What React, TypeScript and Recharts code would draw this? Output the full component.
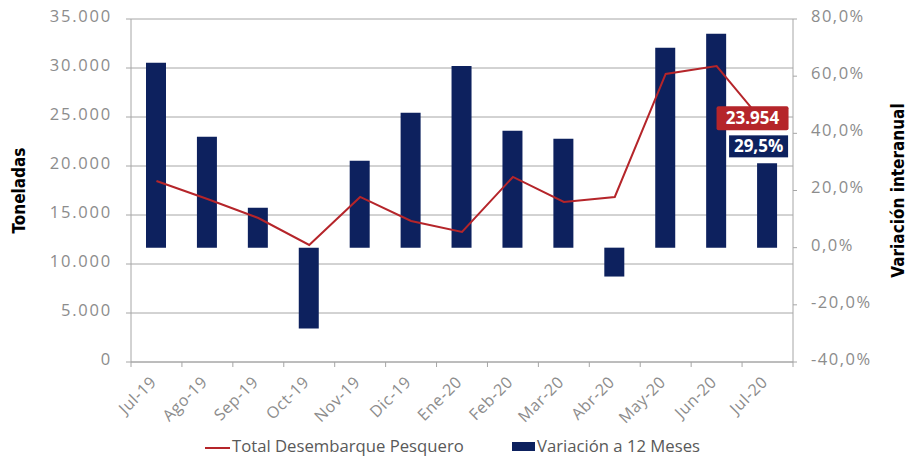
import React from 'react';
import { ComposedChart, Bar, Line, XAxis, YAxis, CartesianGrid, Legend, Label } from 'recharts';

// meses del periodo
const months = ['Jul-19', 'Ago-19', 'Sep-19', 'Oct-19', 'Nov-19', 'Dic-19', 'Ene-20', 'Feb-20', 'Mar-20', 'Abr-20', 'May-20', 'Jun-20', 'Jul-20'];
// total desembarque (toneladas)
const toneladas = [18470, 16630, 14690, 11940, 16840, 14390, 13270, 18880, 16330, 16840, 29390, 30200, 23954];
// variacion a 12 meses (%)
const variacion = [64.7, 38.8, 14.0, -28.3, 30.4, 47.2, 63.6, 40.9, 38.1, -10.1, 69.9, 74.8, 29.5];
const leftTicks = [0, 5000, 10000, 15000, 20000, 25000, 30000, 35000];
const rightTicks = [-40, -20, 0, 20, 40, 60, 80];

const data = months.map((m, i) => ({ mes: m, total: toneladas[i], variacion: variacion[i] }));

const RED = '#b5252a';
const NAVY = '#0d215e';
const GRID = '#a6a6a6';
const TICK = '#8c8c8c';
const FONT = '"Open Sans", "Noto Sans", sans-serif';
const TITLE_FONT = '"Liberation Sans Narrow", "DejaVu Sans Condensed", "Open Sans", sans-serif';

const fmtMiles = (n: number) => Math.round(n).toString().replace(/\B(?=(\d{3})+(?!\d))/g, '.');
const fmtPct = (n: number) => n.toFixed(1).replace('.', ',') + '%';

const W = 908;
const H = 458;
const LEFT_W = 131;
const RIGHT_W = 115;
const BAND = (W - LEFT_W - RIGHT_W) / months.length;

const MonthTick = (props: any) => {
  const { x, y, payload, index } = props;
  const half = BAND / 2;
  return (
    <g>
      <line x1={x - half} x2={x - half} y1={y} y2={y + 5} stroke={GRID} />
      {index === months.length - 1 && <line x1={x + half} x2={x + half} y1={y} y2={y + 5} stroke={GRID} />}
      <text
        x={x + 1}
        y={y + 21}
        transform={`rotate(-45 ${x + 1} ${y + 21})`}
        textAnchor="end"
        fill={TICK}
        fontSize={16}
        letterSpacing={0.6}
        fontFamily={FONT}
      >
        {payload.value}
      </text>
    </g>
  );
};

const TotalLabel = (props: any) => {
  const { x, y, index, value } = props;
  if (index !== months.length - 1) return null;
  return (
    <g>
      <rect x={x - 51} y={y - 21} width={72} height={24} fill={RED} rx={2} />
      <text x={x - 15} y={y - 3} textAnchor="middle" fill="#fff" fontSize={17} fontWeight="bold" fontFamily={FONT}>
        {fmtMiles(value)}
      </text>
    </g>
  );
};

const VarLabel = (props: any) => {
  const { x, y, width, index, value } = props;
  if (index !== months.length - 1) return null;
  const cx = x + width / 2;
  return (
    <g>
      <rect x={cx - 38} y={y - 28} width={59} height={22} fill={NAVY} />
      <text x={cx - 8.5} y={y - 11} textAnchor="middle" fill="#fff" fontSize={17} fontWeight="bold" fontFamily={FONT}>
        {fmtPct(value)}
      </text>
    </g>
  );
};

const LegendBox = () => (
  <div style={{ position: 'relative', width: W, height: 20, fontFamily: FONT, fontSize: 16.7, lineHeight: '20px', color: '#595959' }}>
    <div style={{ position: 'absolute', left: 205, top: 11, width: 25, height: 2, background: RED }} />
    <span style={{ position: 'absolute', left: 232, top: 0, whiteSpace: 'nowrap' }}>Total Desembarque Pesquero</span>
    <div style={{ position: 'absolute', left: 512, top: 6, width: 23, height: 9, background: NAVY }} />
    <span style={{ position: 'absolute', left: 537, top: 0, whiteSpace: 'nowrap' }}>Variación a 12 Meses</span>
  </div>
);

const titleLabel = (text: string, offset: number) => (p: any) => {
  const vb = p.viewBox;
  const cx = vb.x + offset;
  const cy = vb.y + vb.height / 2;
  return (
    <text
      x={cx}
      y={cy}
      transform={`rotate(-90 ${cx} ${cy})`}
      textAnchor="middle"
      dominantBaseline="central"
      fontSize={17}
      fontWeight="bold"
      fill="#000"
      fontFamily={TITLE_FONT}
    >
      {text}
    </text>
  );
};

export default function App() {
  return (
    <div style={{ position: 'absolute', left: 0, top: 0, width: W, height: H, background: '#fff' }}>
      <ComposedChart width={W} height={H} data={data} margin={{ top: 19, right: 0, bottom: 0, left: 0 }}>
        <CartesianGrid yAxisId="left" vertical={false} stroke={GRID} />
        <XAxis
          dataKey="mes"
          height={62}
          interval={0}
          tickLine={false}
          tickSize={0}
          tickMargin={0}
          axisLine={{ stroke: GRID }}
          tick={<MonthTick />}
        />
        <YAxis
          yAxisId="left"
          width={LEFT_W}
          domain={[0, 35000]}
          ticks={leftTicks}
          tickFormatter={fmtMiles}
          tickSize={5}
          tickMargin={14}
          axisLine={{ stroke: GRID }}
          tickLine={{ stroke: GRID }}
          tick={{ fill: TICK, fontSize: 16.5, fontFamily: FONT, letterSpacing: 1.8, dy: -3 }}
        >
          <Label content={titleLabel('Toneladas', 19)} />
        </YAxis>
        <YAxis
          yAxisId="right"
          orientation="right"
          width={RIGHT_W}
          domain={[-40, 80]}
          ticks={rightTicks}
          tickFormatter={fmtPct}
          tickSize={4}
          tickMargin={14}
          axisLine={{ stroke: GRID }}
          tickLine={{ stroke: GRID }}
          tick={{ fill: TICK, fontSize: 16.5, fontFamily: FONT, letterSpacing: 1.5, dy: -3 }}
        >
          <Label content={titleLabel('Variación interanual', 105)} />
        </YAxis>
        <Legend verticalAlign="bottom" height={34} wrapperStyle={{ left: 0, top: 436, width: W }} content={() => <LegendBox />} />
        <Bar yAxisId="right" dataKey="variacion" fill={NAVY} barSize={20} isAnimationActive={false} label={<VarLabel />} />
        <Line
          yAxisId="left"
          dataKey="total"
          stroke={RED}
          strokeWidth={2}
          dot={false}
          activeDot={false}
          isAnimationActive={false}
          label={<TotalLabel />}
        />
      </ComposedChart>
    </div>
  );
}
